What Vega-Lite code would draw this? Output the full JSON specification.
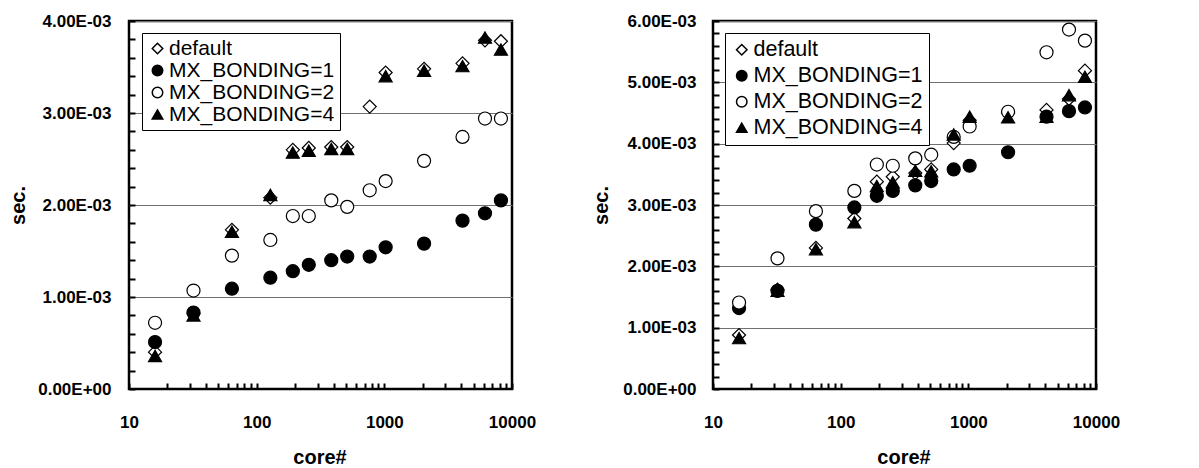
{
  "$schema": "https://vega.github.io/schema/vega-lite/v6.json",
  "background": "white",
  "autosize": {"type": "none"},
  "padding": {"left": 129, "top": 21, "right": 1070, "bottom": 447},
  "config": {
    "font": "Liberation Sans",
    "view": {"stroke": "black", "strokeWidth": 2.5},
    "axis": {
      "labelFont": "Liberation Sans", "labelFontSize": 17, "labelFontWeight": "bold", "labelColor": "black",
      "titleFont": "Liberation Sans", "titleFontSize": 20, "titleFontWeight": "bold", "titleColor": "black",
      "domainColor": "black", "domainWidth": 2.5,
      "labelOverlap": false, "labelFlush": false
    },
    "legend": {
      "labelFont": "Liberation Sans", "labelColor": "black", "labelLimit": 0
    }
  },
  "datasets": {
    "left": [
      {"core": 16, "series": "default", "sec": 0.00040},
      {"core": 32, "series": "default", "sec": 0.00082},
      {"core": 64, "series": "default", "sec": 0.00173},
      {"core": 128, "series": "default", "sec": 0.00208},
      {"core": 192, "series": "default", "sec": 0.00260},
      {"core": 256, "series": "default", "sec": 0.00262},
      {"core": 384, "series": "default", "sec": 0.00263},
      {"core": 512, "series": "default", "sec": 0.00263},
      {"core": 768, "series": "default", "sec": 0.00307},
      {"core": 1024, "series": "default", "sec": 0.00344},
      {"core": 2048, "series": "default", "sec": 0.00348},
      {"core": 4096, "series": "default", "sec": 0.00354},
      {"core": 6144, "series": "default", "sec": 0.00379},
      {"core": 8192, "series": "default", "sec": 0.00378},
      {"core": 16, "series": "MX_BONDING=1", "sec": 0.00051},
      {"core": 32, "series": "MX_BONDING=1", "sec": 0.00083},
      {"core": 64, "series": "MX_BONDING=1", "sec": 0.00109},
      {"core": 128, "series": "MX_BONDING=1", "sec": 0.00121},
      {"core": 192, "series": "MX_BONDING=1", "sec": 0.00128},
      {"core": 256, "series": "MX_BONDING=1", "sec": 0.00135},
      {"core": 384, "series": "MX_BONDING=1", "sec": 0.00140},
      {"core": 512, "series": "MX_BONDING=1", "sec": 0.00144},
      {"core": 768, "series": "MX_BONDING=1", "sec": 0.00144},
      {"core": 1024, "series": "MX_BONDING=1", "sec": 0.00154},
      {"core": 2048, "series": "MX_BONDING=1", "sec": 0.00158},
      {"core": 4096, "series": "MX_BONDING=1", "sec": 0.00183},
      {"core": 6144, "series": "MX_BONDING=1", "sec": 0.00191},
      {"core": 8192, "series": "MX_BONDING=1", "sec": 0.00205},
      {"core": 16, "series": "MX_BONDING=2", "sec": 0.00072},
      {"core": 32, "series": "MX_BONDING=2", "sec": 0.00107},
      {"core": 64, "series": "MX_BONDING=2", "sec": 0.00145},
      {"core": 128, "series": "MX_BONDING=2", "sec": 0.00162},
      {"core": 192, "series": "MX_BONDING=2", "sec": 0.00188},
      {"core": 256, "series": "MX_BONDING=2", "sec": 0.00188},
      {"core": 384, "series": "MX_BONDING=2", "sec": 0.00205},
      {"core": 512, "series": "MX_BONDING=2", "sec": 0.00198},
      {"core": 768, "series": "MX_BONDING=2", "sec": 0.00216},
      {"core": 1024, "series": "MX_BONDING=2", "sec": 0.00226},
      {"core": 2048, "series": "MX_BONDING=2", "sec": 0.00248},
      {"core": 4096, "series": "MX_BONDING=2", "sec": 0.00274},
      {"core": 6144, "series": "MX_BONDING=2", "sec": 0.00294},
      {"core": 8192, "series": "MX_BONDING=2", "sec": 0.00294},
      {"core": 16, "series": "MX_BONDING=4", "sec": 0.00036},
      {"core": 32, "series": "MX_BONDING=4", "sec": 0.00080},
      {"core": 64, "series": "MX_BONDING=4", "sec": 0.00171},
      {"core": 128, "series": "MX_BONDING=4", "sec": 0.00211},
      {"core": 192, "series": "MX_BONDING=4", "sec": 0.00257},
      {"core": 256, "series": "MX_BONDING=4", "sec": 0.00259},
      {"core": 384, "series": "MX_BONDING=4", "sec": 0.00261},
      {"core": 512, "series": "MX_BONDING=4", "sec": 0.00261},
      {"core": 1024, "series": "MX_BONDING=4", "sec": 0.00340},
      {"core": 2048, "series": "MX_BONDING=4", "sec": 0.00346},
      {"core": 4096, "series": "MX_BONDING=4", "sec": 0.00351},
      {"core": 6144, "series": "MX_BONDING=4", "sec": 0.00382},
      {"core": 8192, "series": "MX_BONDING=4", "sec": 0.00369}
    ],
    "right": [
      {"core": 16, "series": "default", "sec": 0.00088},
      {"core": 32, "series": "default", "sec": 0.00162},
      {"core": 64, "series": "default", "sec": 0.00230},
      {"core": 128, "series": "default", "sec": 0.00278},
      {"core": 192, "series": "default", "sec": 0.00338},
      {"core": 256, "series": "default", "sec": 0.00346},
      {"core": 384, "series": "default", "sec": 0.00352},
      {"core": 512, "series": "default", "sec": 0.00358},
      {"core": 768, "series": "default", "sec": 0.00401},
      {"core": 1024, "series": "default", "sec": 0.00438},
      {"core": 2048, "series": "default", "sec": 0.00450},
      {"core": 4096, "series": "default", "sec": 0.00455},
      {"core": 6144, "series": "default", "sec": 0.00473},
      {"core": 8192, "series": "default", "sec": 0.00519},
      {"core": 16, "series": "MX_BONDING=1", "sec": 0.00132},
      {"core": 32, "series": "MX_BONDING=1", "sec": 0.00160},
      {"core": 64, "series": "MX_BONDING=1", "sec": 0.00268},
      {"core": 128, "series": "MX_BONDING=1", "sec": 0.00296},
      {"core": 192, "series": "MX_BONDING=1", "sec": 0.00315},
      {"core": 256, "series": "MX_BONDING=1", "sec": 0.00323},
      {"core": 384, "series": "MX_BONDING=1", "sec": 0.00332},
      {"core": 512, "series": "MX_BONDING=1", "sec": 0.00339},
      {"core": 768, "series": "MX_BONDING=1", "sec": 0.00358},
      {"core": 1024, "series": "MX_BONDING=1", "sec": 0.00364},
      {"core": 2048, "series": "MX_BONDING=1", "sec": 0.00386},
      {"core": 4096, "series": "MX_BONDING=1", "sec": 0.00444},
      {"core": 6144, "series": "MX_BONDING=1", "sec": 0.00453},
      {"core": 8192, "series": "MX_BONDING=1", "sec": 0.00459},
      {"core": 16, "series": "MX_BONDING=2", "sec": 0.00141},
      {"core": 32, "series": "MX_BONDING=2", "sec": 0.00213},
      {"core": 64, "series": "MX_BONDING=2", "sec": 0.00290},
      {"core": 128, "series": "MX_BONDING=2", "sec": 0.00323},
      {"core": 192, "series": "MX_BONDING=2", "sec": 0.00366},
      {"core": 256, "series": "MX_BONDING=2", "sec": 0.00364},
      {"core": 384, "series": "MX_BONDING=2", "sec": 0.00376},
      {"core": 512, "series": "MX_BONDING=2", "sec": 0.00382},
      {"core": 768, "series": "MX_BONDING=2", "sec": 0.00411},
      {"core": 1024, "series": "MX_BONDING=2", "sec": 0.00428},
      {"core": 2048, "series": "MX_BONDING=2", "sec": 0.00452},
      {"core": 4096, "series": "MX_BONDING=2", "sec": 0.00549},
      {"core": 6144, "series": "MX_BONDING=2", "sec": 0.00586},
      {"core": 8192, "series": "MX_BONDING=2", "sec": 0.00568},
      {"core": 16, "series": "MX_BONDING=4", "sec": 0.00083},
      {"core": 32, "series": "MX_BONDING=4", "sec": 0.00160},
      {"core": 64, "series": "MX_BONDING=4", "sec": 0.00228},
      {"core": 128, "series": "MX_BONDING=4", "sec": 0.00272},
      {"core": 192, "series": "MX_BONDING=4", "sec": 0.00331},
      {"core": 256, "series": "MX_BONDING=4", "sec": 0.00337},
      {"core": 384, "series": "MX_BONDING=4", "sec": 0.00356},
      {"core": 512, "series": "MX_BONDING=4", "sec": 0.00355},
      {"core": 768, "series": "MX_BONDING=4", "sec": 0.00415},
      {"core": 1024, "series": "MX_BONDING=4", "sec": 0.00444},
      {"core": 2048, "series": "MX_BONDING=4", "sec": 0.00443},
      {"core": 4096, "series": "MX_BONDING=4", "sec": 0.00444},
      {"core": 6144, "series": "MX_BONDING=4", "sec": 0.00479},
      {"core": 8192, "series": "MX_BONDING=4", "sec": 0.00509}
    ]
  },
  "spacing": 201,
  "bounds": "flush",
  "resolve": {
    "scale": {"x": "independent", "y": "independent", "shape": "independent", "fill": "independent"},
    "legend": {"shape": "independent", "fill": "independent"}
  },
  "hconcat": [
    {
      "width": 383, "height": 368,
      "data": {"name": "left"},
      "mark": {"type": "point", "filled": true, "opacity": 1, "stroke": "black", "strokeWidth": 1.2, "size": 170},
      "encoding": {
        "x": {
          "field": "core", "type": "quantitative",
          "scale": {"type": "log", "domain": [10, 10000]},
          "axis": {
            "values": [10,20,30,40,50,60,70,80,90,100,200,300,400,500,600,700,800,900,1000,2000,3000,4000,5000,6000,7000,8000,9000,10000],
            "labelExpr": "(datum.value == 10 || datum.value == 100 || datum.value == 1000 || datum.value == 10000) ? format(datum.value, 'd') : ''",
            "grid": false, "domain": false, "offset": -6,
            "ticks": true, "tickSize": 6, "tickColor": "#000000", "tickWidth": 2, "tickOpacity": 1,
            "labelPadding": 25, "title": "core#",
            "titleX": 190.5, "titleY": 74, "titleAlign": "center", "titleBaseline": "middle"
          }
        },
        "y": {
          "field": "sec", "type": "quantitative",
          "scale": {"domain": [0, 0.004], "nice": false},
          "axis": {
            "values": [0,0.0002,0.0004,0.0006,0.0008,0.001,0.0012,0.0014,0.0016,0.0018,0.002,0.0022,0.0024,0.0026,0.0028,0.003,0.0032,0.0034,0.0036,0.0038,0.004],
            "labelExpr": "datum.value == 0 ? '0.00E+00' : (abs(datum.value*1000 - round(datum.value*1000)) < 0.001 ? format(datum.value*1000, '.2f') + 'E-03' : '')",
            "grid": true, "gridColor": "#707070", "gridWidth": 1,
            "gridOpacity": {"condition": {"test": "datum.value > 0 && abs(datum.value*1000 - round(datum.value*1000)) < 0.001", "value": 1}, "value": 0},
            "domain": false, "offset": -6,
            "ticks": true, "tickSize": 6, "tickColor": "#000000", "tickWidth": 2, "tickOpacity": 1,
            "labelPadding": 18, "title": "sec.",
            "titleX": -117, "titleY": 184, "titleAngle": 270, "titleAlign": "center", "titleBaseline": "middle"
          }
        },
        "shape": {
          "field": "series", "type": "nominal",
          "scale": {"domain": ["default", "MX_BONDING=1", "MX_BONDING=2", "MX_BONDING=4"], "range": ["diamond", "circle", "circle", "triangle-up"]},
          "legend": {"orient": "none", "legendX": 13, "legendY": 12, "title": null, "strokeColor": "black", "fillColor": "white", "padding": 5, "rowPadding": 0, "symbolSize": 110, "symbolOffset": 0, "labelOffset": 1, "labelFontSize": 21, "labelLimit": 0, "cornerRadius": 0,
            "encode": {"symbols": {"update": {"stroke": {"value": "black"}, "strokeWidth": {"value": 1}, "opacity": {"value": 1}}}}}
        },
        "fill": {
          "field": "series", "type": "nominal",
          "scale": {"domain": ["default", "MX_BONDING=1", "MX_BONDING=2", "MX_BONDING=4"], "range": ["white", "black", "white", "black"]},
          "legend": {"orient": "none", "legendX": 13, "legendY": 12, "title": null, "strokeColor": "black", "fillColor": "white", "padding": 5, "rowPadding": 0, "symbolSize": 110, "symbolOffset": 0, "labelOffset": 1, "labelFontSize": 21, "labelLimit": 0, "cornerRadius": 0,
            "encode": {"symbols": {"update": {"stroke": {"value": "black"}, "strokeWidth": {"value": 1}, "opacity": {"value": 1}}}}}
        }
      }
    },
    {
      "width": 383, "height": 368,
      "data": {"name": "right"},
      "mark": {"type": "point", "filled": true, "opacity": 1, "stroke": "black", "strokeWidth": 1.2, "size": 170},
      "encoding": {
        "x": {
          "field": "core", "type": "quantitative",
          "scale": {"type": "log", "domain": [10, 10000]},
          "axis": {
            "values": [10,20,30,40,50,60,70,80,90,100,200,300,400,500,600,700,800,900,1000,2000,3000,4000,5000,6000,7000,8000,9000,10000],
            "labelExpr": "(datum.value == 10 || datum.value == 100 || datum.value == 1000 || datum.value == 10000) ? format(datum.value, 'd') : ''",
            "grid": false, "domain": false, "offset": -6,
            "ticks": true, "tickSize": 6, "tickColor": "#000000", "tickWidth": 2, "tickOpacity": 1,
            "labelPadding": 25, "title": "core#",
            "titleX": 190.5, "titleY": 74, "titleAlign": "center", "titleBaseline": "middle"
          }
        },
        "y": {
          "field": "sec", "type": "quantitative",
          "scale": {"domain": [0, 0.006], "nice": false},
          "axis": {
            "values": [0,0.0002,0.0004,0.0006,0.0008,0.001,0.0012,0.0014,0.0016,0.0018,0.002,0.0022,0.0024,0.0026,0.0028,0.003,0.0032,0.0034,0.0036,0.0038,0.004,0.0042,0.0044,0.0046,0.0048,0.005,0.0052,0.0054,0.0056,0.0058,0.006],
            "labelExpr": "datum.value == 0 ? '0.00E+00' : (abs(datum.value*1000 - round(datum.value*1000)) < 0.001 ? format(datum.value*1000, '.2f') + 'E-03' : '')",
            "grid": true, "gridColor": "#707070", "gridWidth": 1,
            "gridOpacity": {"condition": {"test": "datum.value > 0 && abs(datum.value*1000 - round(datum.value*1000)) < 0.001", "value": 1}, "value": 0},
            "domain": false, "offset": -6,
            "ticks": true, "tickSize": 6, "tickColor": "#000000", "tickWidth": 2, "tickOpacity": 1,
            "labelPadding": 17, "title": "sec.",
            "titleX": -118, "titleY": 184, "titleAngle": 270, "titleAlign": "center", "titleBaseline": "middle"
          }
        },
        "shape": {
          "field": "series", "type": "nominal",
          "scale": {"domain": ["default", "MX_BONDING=1", "MX_BONDING=2", "MX_BONDING=4"], "range": ["diamond", "circle", "circle", "triangle-up"]},
          "legend": {"orient": "none", "legendX": 12, "legendY": 12, "title": null, "strokeColor": "black", "fillColor": "white", "padding": 6, "rowPadding": 3, "symbolSize": 110, "symbolOffset": 0, "labelOffset": 1, "labelFontSize": 21.5, "labelLimit": 0, "cornerRadius": 0,
            "encode": {"symbols": {"update": {"stroke": {"value": "black"}, "strokeWidth": {"value": 1}, "opacity": {"value": 1}}}}}
        },
        "fill": {
          "field": "series", "type": "nominal",
          "scale": {"domain": ["default", "MX_BONDING=1", "MX_BONDING=2", "MX_BONDING=4"], "range": ["white", "black", "white", "black"]},
          "legend": {"orient": "none", "legendX": 12, "legendY": 12, "title": null, "strokeColor": "black", "fillColor": "white", "padding": 6, "rowPadding": 3, "symbolSize": 110, "symbolOffset": 0, "labelOffset": 1, "labelFontSize": 21.5, "labelLimit": 0, "cornerRadius": 0,
            "encode": {"symbols": {"update": {"stroke": {"value": "black"}, "strokeWidth": {"value": 1}, "opacity": {"value": 1}}}}}
        }
      }
    }
  ]
}
